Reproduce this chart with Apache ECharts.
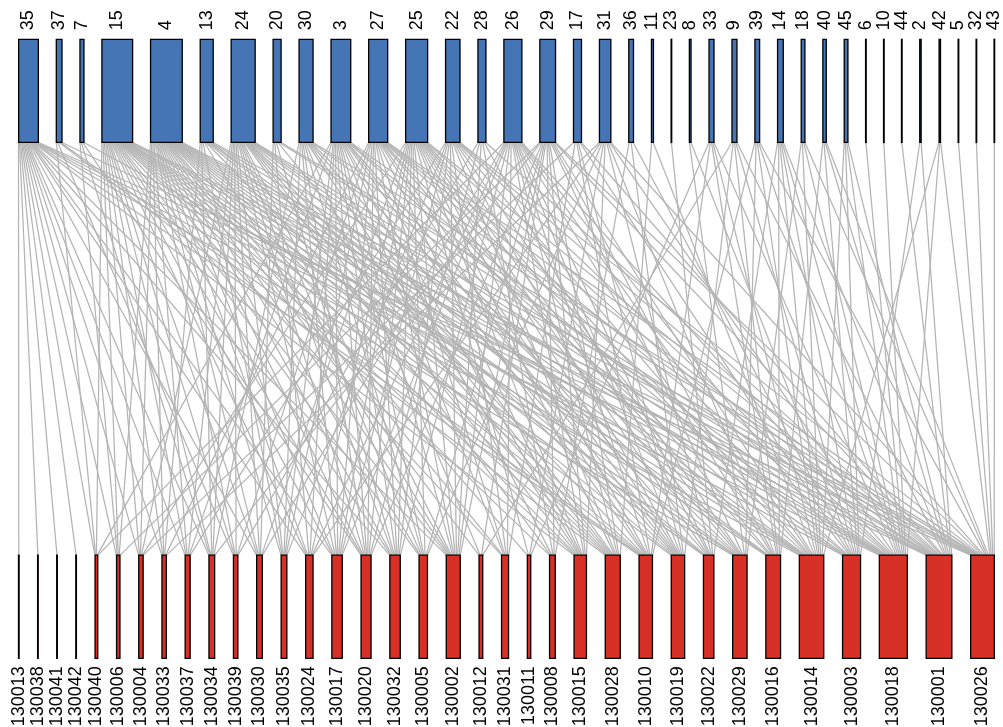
<!DOCTYPE html>
<html><head><meta charset="utf-8">
<script src="https://cdn.jsdelivr.net/npm/echarts@6/dist/echarts.min.js"></script>
<style>html,body{margin:0;padding:0;background:#fff}#c{width:1003px;height:727px}</style>
</head><body><div id="c"></div>
<script>
// Higher level (top) nodes and their abundances (box widths)
const topNames = ['35','37','7','15','4','13','24','20','30','3','27','25','22','28','26','29','17','31','36','11','23','8','33','9','39','14','18','40','45','6','10','44','2','42','5','32','43'];
const topAbund = [21,7,5.3,32,33,14.3,25.3,9.3,15.3,21,20.3,23.3,15.7,9.3,19.3,17,9.3,12.7,6,3.3,1.3,3,6.3,6.3,6,7,5,4.7,5,1.3,1.3,1.3,2.7,2.7,1.3,1.3,1.3];

// Lower level (bottom) nodes and their abundances
const bottomNames = ['130013','130038','130041','130042','130040','130006','130004','130033','130037','130034','130039','130030','130035','130024','130017','130020','130032','130005','130002','130012','130031','130011','130008','130015','130028','130010','130019','130022','130029','130016','130014','130003','130018','130001','130026'];
const bottomAbund = [1.6,1.6,1.6,1.6,4,4.7,5.7,5.7,6.3,7,5.7,7,7,8.7,11.7,11.3,11.7,9.7,15.3,5,8.3,4.7,7,13.7,16.3,14.7,14.7,11.7,15.7,16,25.7,19.3,29.3,27,25];

// Interactions: for each top node, the indices of bottom nodes it links to
const topLinks = [
  [0,1,2,3,4,5,6,7,8,9,11,13,14,16,18,23,25,28,30,32,34],
  [4,10,24,25,33],
  [5,9,15,31],
  [4,5,6,7,8,9,10,11,13,14,15,16,17,18,20,22,23,24,25,26,27,28,29,30,32,33,34],
  [5,6,7,8,10,11,12,13,14,15,16,17,18,19,20,21,23,24,25,26,27,28,29,30,31,32,33,34],
  [7,9,12,18,24,27,29,30,32,34],
  [6,8,9,10,11,12,14,15,16,17,18,22,23,24,25,26,28,30,31,32,33],
  [11,13,16,24,33,34],
  [9,12,14,15,17,19,23,24,26,28,32,34],
  [4,8,12,13,14,15,16,17,18,20,22,23,25,26,27,30,31,33],
  [7,10,12,14,15,16,18,20,23,25,26,28,29,31,32,33,34],
  [6,11,13,14,15,16,17,18,21,23,24,25,26,27,28,29,30,32,33],
  [8,12,14,16,18,20,24,26,28,30,32,33,34],
  [10,15,18,22,27,33],
  [4,11,13,14,16,18,20,23,24,25,26,27,29,30,31,32],
  [5,9,15,17,18,19,22,23,24,28,29,30,33,34],
  [6,20,25,26,31,33],
  [7,13,17,21,23,27,29,32,34],
  [22,26,31],
  [24,30],
  [27],
  [28,31],
  [21,25,29,30,32],
  [19,26,29,31,33],
  [25,28,30,32,34],
  [27,29,30,31,32,33],
  [28,30,32,34],
  [29,31,33,34],
  [30,31,32,33],
  [32],
  [32],
  [33],
  [31,33],
  [30,32,34],
  [34],
  [34],
  [34]
];

// ---- layout in abundance units ----
const SPAN = 977;
function layout(ab) {
  const n = ab.length, sum = ab.reduce((a, b) => a + b, 0);
  const gap = (SPAN - sum) / (n - 1);
  let x = 0;
  return ab.map(w => { const l = x; x += w + gap; return [l, l + w]; });
}
const topPos = layout(topAbund), botPos = layout(bottomAbund);

const edges = [];
topLinks.forEach((list, i) => list.forEach(j => edges.push({ i, j })));
topLinks.forEach((_, i) => {
  const es = edges.filter(e => e.i === i).sort((a, b) => a.j - b.j);
  const [l, r] = topPos[i];
  es.forEach((e, k) => { e.xt = l + (r - l) * (k + 0.5) / es.length; });
});
bottomNames.forEach((_, j) => {
  const es = edges.filter(e => e.j === j).sort((a, b) => a.i - b.i);
  const [l, r] = botPos[j];
  es.forEach((e, k) => { e.xb = l + (r - l) * (k + 0.5) / es.length; });
});

const FONT = 'Liberation Sans, Arial, sans-serif';
const LW = 1.3;
function boxSeries(names, pos, y0, y1, color, labelTop) {
  return {
    type: 'custom', coordinateSystem: 'cartesian2d', silent: true, z: 3,
    data: names.map((n, i) => [pos[i][0], pos[i][1]]),
    renderItem: (params, api) => {
      const i = params.dataIndex;
      const p0 = api.coord([api.value(0), y1]);
      const p1 = api.coord([api.value(1), y0]);
      const w = Math.max(p1[0] - p0[0] - LW, 0.6);
      const cx = (p0[0] + p1[0]) / 2;
      return {
        type: 'group',
        children: [
          { type: 'rect', shape: { x: cx - w / 2, y: p0[1], width: w, height: p1[1] - p0[1] },
            style: { fill: color, stroke: '#000', lineWidth: LW } },
          { type: 'text', x: cx, y: labelTop ? p0[1] - 9 : p1[1] + 8, rotation: Math.PI / 2,
            style: { text: names[i], fontSize: 18, fontFamily: FONT, fill: '#000',
                     align: labelTop ? 'left' : 'right', verticalAlign: 'middle' } }
        ]
      };
    }
  };
}

const chart = echarts.init(document.getElementById('c'), null, { renderer: 'canvas' });
chart.setOption({
  animation: false,
  backgroundColor: '#fff',
  grid: { left: 18, right: 8, top: 39.3, bottom: 68.7, containLabel: false },
  xAxis: { type: 'value', min: 0, max: SPAN, show: false },
  yAxis: { type: 'value', min: 0, max: 6, show: false },
  series: [
    {
      type: 'custom', coordinateSystem: 'cartesian2d', silent: true, z: 1,
      data: edges.map(e => [e.xt, e.xb]),
      renderItem: (params, api) => {
        const a = api.coord([api.value(0), 5]);
        const b = api.coord([api.value(1), 1]);
        return { type: 'line', shape: { x1: a[0], y1: a[1], x2: b[0], y2: b[1] },
                 style: { stroke: '#b4b4b4', lineWidth: 1.25 } };
      }
    },
    boxSeries(topNames, topPos, 5, 6, '#4575b4', true),
    boxSeries(bottomNames, botPos, 0, 1, '#d73027', false)
  ]
});
</script>
</body></html>
